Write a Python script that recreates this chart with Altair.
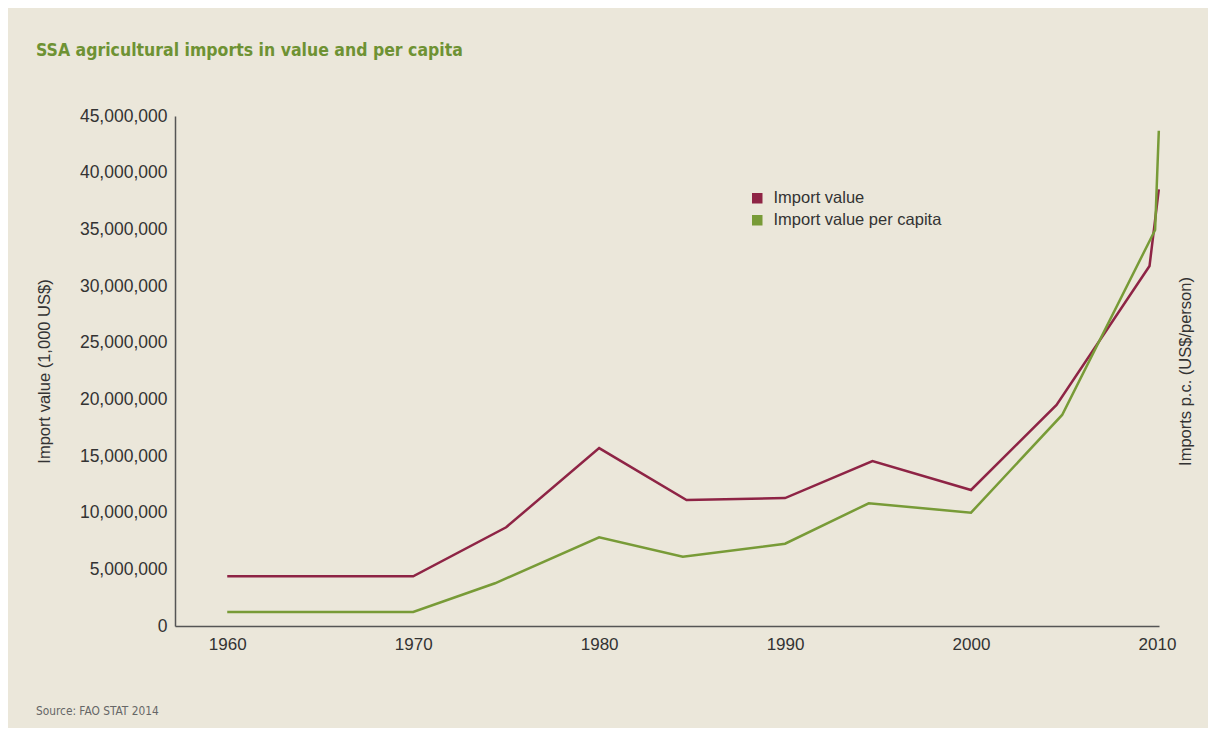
import altair as alt
import pandas as pd

# ---- data ----
value_years = [1960, 1970, 1975, 1980, 1984.7, 1990, 1994.7, 2000, 2004.6, 2009.6, 2010.1]
value_vals = [4.39e6, 4.39e6, 8.71e6, 15.7e6, 11.12e6, 11.29e6, 14.56e6, 12.0e6, 19.5e6, 31.76e6, 38.53e6]

pc_years = [1960, 1970, 1974.4, 1980, 1984.5, 1990, 1994.5, 2000, 2004.9, 2009.9, 2010.1]
pc_vals = [1.24e6, 1.24e6, 3.77e6, 7.83e6, 6.11e6, 7.26e6, 10.83e6, 10.0e6, 18.62e6, 34.94e6, 43.7e6]

series_names = ["Import value", "Import value per capita"]
series_colors = ["#8e2445", "#789b37"]
x_ticks = [1960, 1970, 1980, 1990, 2000, 2010]
y_ticks = [0, 5e6, 10e6, 15e6, 20e6, 25e6, 30e6, 35e6, 40e6, 45e6]

title_text = "SSA agricultural imports in value and per capita"
source_text = "Source: FAO STAT 2014"

df_val = pd.DataFrame({"year": value_years, "v": value_vals, "series": series_names[0]})
df_pc = pd.DataFrame({"year": pc_years, "v": pc_vals, "series": series_names[1]})

FONT = "Liberation Sans"
NARROW = "Liberation Sans Narrow, DejaVu Sans Condensed, sans-serif"
BG = "#ebe7da"
AXC = "#555555"
TXT = "#333333"

W, H = 984, 510

x_enc = alt.X(
    "year:Q",
    scale=alt.Scale(domain=[1957.19, 2010.11], nice=False, zero=False),
    axis=alt.Axis(values=x_ticks, format="d", title=None, grid=False, ticks=False,
                  tickSize=0, domainColor=AXC, domainWidth=1.5, labelFontSize=17,
                  labelFont=FONT, labelColor=TXT, labelPadding=10),
)

color_enc = alt.Color(
    "series:N",
    scale=alt.Scale(domain=series_names, range=series_colors),
    legend=alt.Legend(title=None, orient="none", legendX=574, legendY=74,
                      symbolType="square", symbolSize=25, symbolStrokeWidth=5.5,
                      labelFontSize=16.5, labelFont=FONT, labelColor=TXT,
                      labelLimit=0, labelOffset=8, rowPadding=-7, padding=0),
)

left = alt.Chart(df_val).mark_line(strokeWidth=2.5).encode(
    x=x_enc,
    y=alt.Y("v:Q", scale=alt.Scale(domain=[0, 45e6], nice=False),
            axis=alt.Axis(values=y_ticks, format=",d", title="Import value (1,000 US$)",
                          grid=False, ticks=False, tickSize=0, domainColor=AXC,
                          domainWidth=1.5, labelFontSize=17.5, labelFont=FONT,
                          labelColor=TXT, labelPadding=8, titleFont=FONT,
                          titleFontSize=16.5, titleFontWeight="normal", titleColor=TXT,
                          titlePadding=27)),
    color=color_enc,
)

right = alt.Chart(df_pc).mark_line(strokeWidth=2.5).encode(
    x=x_enc,
    y=alt.Y("v:Q", scale=alt.Scale(domain=[0, 45e6], nice=False),
            axis=alt.Axis(orient="right", labels=False, ticks=False, domain=False,
                          grid=False, title="Imports p.c. (US$/person)", titleFont=FONT,
                          titleFontSize=16.5, titleFontWeight="normal", titleColor=TXT,
                          titleAngle=270, titleBaseline="top", titlePadding=18)),
    color=color_enc,
)

source = alt.Chart(pd.DataFrame({"t": [source_text]})).mark_text(
    align="left", baseline="middle", font=NARROW, fontSize=11.8, color="#666666"
).encode(text="t:N", x=alt.value(-139), y=alt.value(H + 85))

chart = (
    alt.layer(left, right, source)
    .resolve_scale(y="independent")
    .properties(
        width=W,
        height=H,
        background=BG,
        autosize=alt.AutoSizeParams(type="none"),
        padding={"left": 167, "top": 108, "right": 49, "bottom": 102},
        title=alt.TitleParams(title_text, anchor="start", frame="group", dx=-139,
                              offset=48, font=NARROW, fontSize=17.5, fontWeight="bold",
                              color="#6e9233"),
    )
    .configure_view(stroke=None)
)

chart.save("out.html", embed_options={"renderer": "svg", "actions": False})
